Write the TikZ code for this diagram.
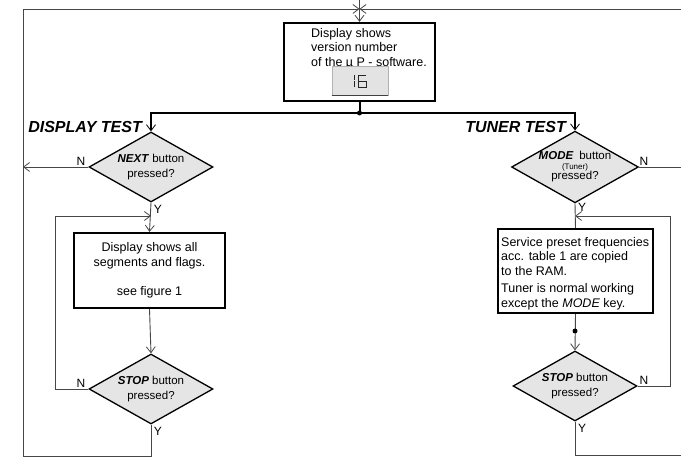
\documentclass[tikz,border=0pt]{standalone}
\usepackage{fontspec}
\setmainfont{Liberation Sans}
\usetikzlibrary{shapes.geometric}
\usetikzlibrary{arrows.meta}
\tikzset{box/.style={draw, line width=2.2pt, inner sep=0pt},
         decision/.style={diamond, draw, line width=1.3pt, fill=gray!20,
         aspect=1.77, minimum width=124pt, minimum height=70pt,
         inner sep=0pt, align=center, font=\fontsize{11.5}{14.5}\selectfont},
         flow/.style={draw=gray!55!black, line width=0.9pt},
         tip/.style={-{Straight Barb[length=6pt,width=9pt,line width=0.8pt]}},
         lbl/.style={inner sep=0pt, font=\fontsize{12}{13}\selectfont},
         txt/.style={inner sep=0pt, font=\fontsize{12.5}{14.5}\selectfont},
         testlabel/.style={inner sep=0pt, font=\fontsize{16}{18}\selectfont\bfseries\itshape},
         lcdseg/.style={gray!30!black, line width=0.8pt}}

\begin{document}
\begin{tikzpicture}[x=1pt,y=-1pt]
\useasboundingbox (0,0) rectangle (681,457);

% frame lines
\coordinate (topin) at (359.5,9);
\coordinate (topend) at (359.5,0);
\coordinate (topL) at (23,9);
\coordinate (topR) at (681,9);
\coordinate (botL) at (23,456);
\coordinate (botR) at (681,455);

% version display
\node[box, minimum width=151pt, minimum height=78pt] (ver) at (359.5,62) {};
\node[txt, anchor=north west, align=left] (vertxt) at (311,28) {Display shows\\version number\\of the µ P - software.};
\node[draw=gray!60, fill=gray!22, line width=0.7pt, minimum width=56pt, minimum height=29pt, inner sep=0pt] (lcd) at (360,80.5) {};
\draw[gray!50!black, line width=1pt] (lcd.south west) -- (lcd.south east);
\draw[lcdseg] (354,75) -- (354,80.5) (354,81.5) -- (354,87);
\draw[lcdseg] (366,75) -- (358,75) -- (358,87) -- (366,87) -- (366,81) -- (358,81);

\coordinate (split) at (359.5,113);

\node[testlabel, anchor=east] (dtest) at (142,127) {DISPLAY TEST};
\node[testlabel, anchor=east] (ttest) at (566,127) {TUNER TEST};

% display test
\node[decision] (next) at (151,167) {\textbf{\textit{NEXT}} button\\pressed?};
\node[box, txt, align=center, minimum width=151pt, minimum height=75pt] (show) at (149.5,270.5) {Display shows all\\segments and flags.\\[14.5pt]see figure 1};
\node[decision] (stop1) at (151,389) {\textbf{\textit{STOP}} button\\pressed?};
\coordinate (loopL) at (55,216);
\coordinate (nextN) at (23,167);

\node[lbl] (nextn) at (81,161) {N};
\node[lbl] (nexty) at (158,209) {Y};
\node[lbl] (stop1n) at (81,383) {N};
\node[lbl] (stop1y) at (158,431) {Y};

% tuner test
\node[decision] (mode) at (575,167) {\textbf{\textit{MODE}}\enspace button\\[-5pt]{\fontsize{8}{9}\selectfont(Tuner)}\\[-4pt]pressed?};
\node[box, minimum width=155pt, minimum height=84pt] (tune) at (575.5,271) {};
\node[txt, anchor=north west, align=left] (tunetxt) at (501,237) {Service preset frequencies\\acc. table 1 are copied\\to the RAM.\\[3pt]Tuner is normal working\\except the \textit{MODE} key.};
\coordinate (tdot) at (575,331);
\node[decision] (stop2) at (575,386) {\textbf{\textit{STOP}} button\\pressed?};
\coordinate (loopR) at (670,216);
\coordinate (modeN) at (681,167);

\node[lbl] (moden) at (644,161) {N};
\node[lbl] (modey) at (582,207) {Y};
\node[lbl] (stop2n) at (644,380) {N};
\node[lbl] (stop2y) at (582,428) {Y};

% connectors
\draw[flow, tip] (topend) -- (ver.north);
\draw[flow, tip] (topR) -- (topin);
\draw[flow, tip] (stop1.south) |- (botL) -- (topL) -- (topin);
\draw[line width=2pt] (ver.south) -- (split);
\fill (split) circle (2.5pt);
\draw[line width=2pt, tip] (split) -| (next.north);
\draw[line width=2pt, tip] (split) -| (mode.north);

\draw[flow, tip] (next.south) -- (show.north);
\draw[flow, tip] (next.west) -- (nextN);
\draw[flow, tip] (show.south) -- (stop1.north);
\draw[flow, tip] (stop1.west) -| (loopL) -- (loopL -| next);

\draw[flow] (mode.south) -- (tune.north);
\draw[flow] (mode.east) -- (modeN);
\draw[flow, tip] (tune.south) -- (stop2.north);
\fill (tdot) circle (2.5pt);
\draw[flow, tip] (stop2.east) -| (loopR) -- (loopR -| mode);
\draw[flow] (stop2.south) |- (botR);

\end{tikzpicture}
\end{document}
